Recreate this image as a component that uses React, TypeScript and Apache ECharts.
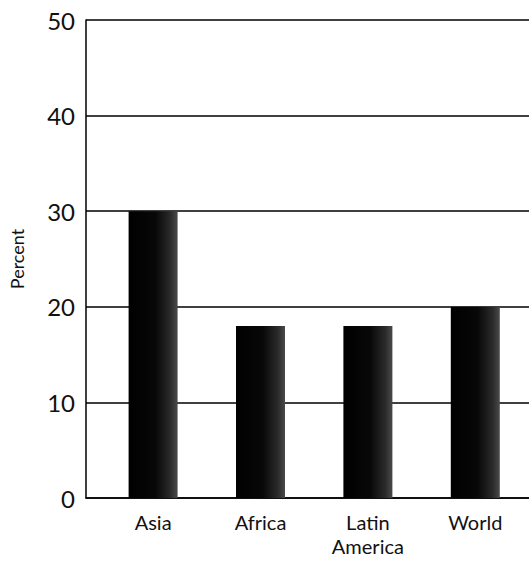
import React, { useEffect, useRef } from "react";
import * as echarts from "echarts";

const categories = ["Asia", "Africa", "Latin\nAmerica", "World"];
const percentValues = [30, 18, 18, 20];
const yMin = 0;
const yMax = 50;
const yInterval = 10;

const FONT = "Lato, 'Noto Sans', sans-serif";

export default function App() {
  const ref = useRef<HTMLDivElement>(null);
  useEffect(() => {
    if (!ref.current) return;
    const chart = echarts.init(ref.current, undefined, { renderer: "svg" });
    const barColor = new echarts.graphic.LinearGradient(0, 0, 1, 0, [
      { offset: 0, color: "#000000" },
      { offset: 0.55, color: "#080808" },
      { offset: 0.85, color: "#2a2a2a" },
      { offset: 1, color: "#4a4a4a" },
    ]);
    chart.setOption({
      animation: false,
      backgroundColor: "#ffffff",
      grid: [
        { left: 85, right: 0, top: 20, height: 478 },
        { left: 99.4, width: 433, top: 20, height: 478 },
      ],
      xAxis: [
        {
          gridIndex: 0,
          type: "category",
          data: categories,
          axisLine: { show: true, lineStyle: { color: "#000", width: 1.5 } },
          axisTick: { show: false },
          axisLabel: { show: false },
          splitLine: { show: false },
        },
        {
          gridIndex: 1,
          type: "category",
          data: categories,
          axisLine: { show: false },
          axisTick: { show: false },
          axisLabel: {
            color: "#111",
            fontFamily: FONT,
            fontSize: 20,
            lineHeight: 24,
            margin: 12,
          },
          splitLine: { show: false },
        },
      ],
      yAxis: [
        {
          gridIndex: 0,
          type: "value",
          min: yMin,
          max: yMax,
          interval: yInterval,
          name: "Percent",
          nameLocation: "middle",
          nameRotate: 90,
          nameGap: 60,
          nameTextStyle: { color: "#111", fontFamily: FONT, fontSize: 18 },
          axisLine: { show: true, lineStyle: { color: "#000", width: 1.5 } },
          axisTick: { show: false },
          axisLabel: {
            color: "#111",
            fontFamily: FONT,
            fontSize: 24,
            margin: 11,
          },
          splitLine: { show: true, lineStyle: { color: "#000", width: 1.5 } },
        },
        {
          gridIndex: 1,
          type: "value",
          min: yMin,
          max: yMax,
          interval: yInterval,
          show: false,
          splitLine: { show: false },
        },
      ],
      series: [
        {
          type: "bar",
          xAxisIndex: 1,
          yAxisIndex: 1,
          data: percentValues,
          barWidth: 49,
          itemStyle: { color: barColor },
        },
      ],
    });
    return () => chart.dispose();
  }, []);
  return (
    <div
      ref={ref}
      style={{ position: "absolute", left: 0, top: 0, width: 529, height: 561 }}
    />
  );
}
